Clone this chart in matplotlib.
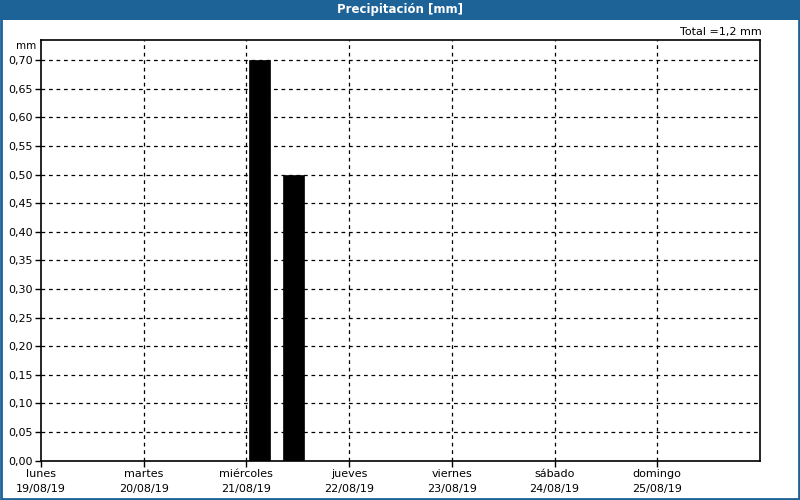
import matplotlib.pyplot as plt
from matplotlib.patches import Rectangle

# datos: precipitación horaria (hora desde lunes 00:00, mm)
DAY_NAMES = ["lunes", "martes", "miércoles", "jueves", "viernes", "sábado", "domingo"]
DAY_DATES = ["19/08/19", "20/08/19", "21/08/19", "22/08/19", "23/08/19", "24/08/19", "25/08/19"]
BAR_START_HOURS = [48.6, 56.6]
BAR_VALUES = [0.70, 0.50]
BAR_WIDTH_HOURS = 4.9
Y_TICKS = [i * 0.05 for i in range(15)]
TOTAL_MM = sum(BAR_VALUES)

BLUE = "#1d6397"
FONT = "DejaVu Sans"

fig = plt.figure(figsize=(8, 5), dpi=100)
fig.patch.set_facecolor("white")

# barra de título y borde
fig.patches.append(Rectangle((0, 0.96), 1, 0.04, transform=fig.transFigure,
                             facecolor=BLUE, edgecolor="none", zorder=0))
fig.patches.append(Rectangle((0.001, 0.002), 0.998, 0.996, transform=fig.transFigure,
                             facecolor="none", edgecolor=BLUE, linewidth=2, zorder=0))
fig.text(0.5, 0.981, "Precipitación [mm]", color="white", fontsize=8.5,
         fontweight="bold", ha="center", va="center", family=FONT)

ax = fig.add_axes([0.05125, 0.079, 0.89875, 0.8404])

days = [h / 24 for h in BAR_START_HOURS]
ax.bar(days, BAR_VALUES, width=BAR_WIDTH_HOURS / 24, align="edge",
       color="black", edgecolor="black", linewidth=0.5, zorder=3)

ax.set_xlim(0, 7)
ax.set_ylim(0, 0.735)
ax.set_yticks(Y_TICKS)
ax.set_yticklabels([f"{v:.2f}".replace(".", ",") for v in Y_TICKS], fontsize=8, family=FONT)
ax.set_xticks(range(7))
ax.set_xticklabels([f"{n}\n{d}" for n, d in zip(DAY_NAMES, DAY_DATES)],
                   fontsize=8, family=FONT, linespacing=1.6)
ax.tick_params(axis="both", length=4, width=1, color="black", pad=2)

for v in Y_TICKS[1:]:
    ax.axhline(v, color="black", linewidth=0.9, linestyle=(0, (3, 3)), zorder=1)
for d in range(1, 7):
    ax.axvline(d, color="black", linewidth=0.9, linestyle=(0, (3, 3)), zorder=1)

for s in ax.spines.values():
    s.set_linewidth(1.2)
    s.set_color("black")

ax.text(-0.007, 0.987, "mm", transform=ax.transAxes, ha="right", va="center",
        fontsize=7.5, family=FONT)
ax.text(1.0024, 1.0186, f"Total ={TOTAL_MM:.1f} mm".replace(".", ","), transform=ax.transAxes,
        ha="right", va="center", fontsize=8, family=FONT)

fig.savefig("out.png", dpi=100)
